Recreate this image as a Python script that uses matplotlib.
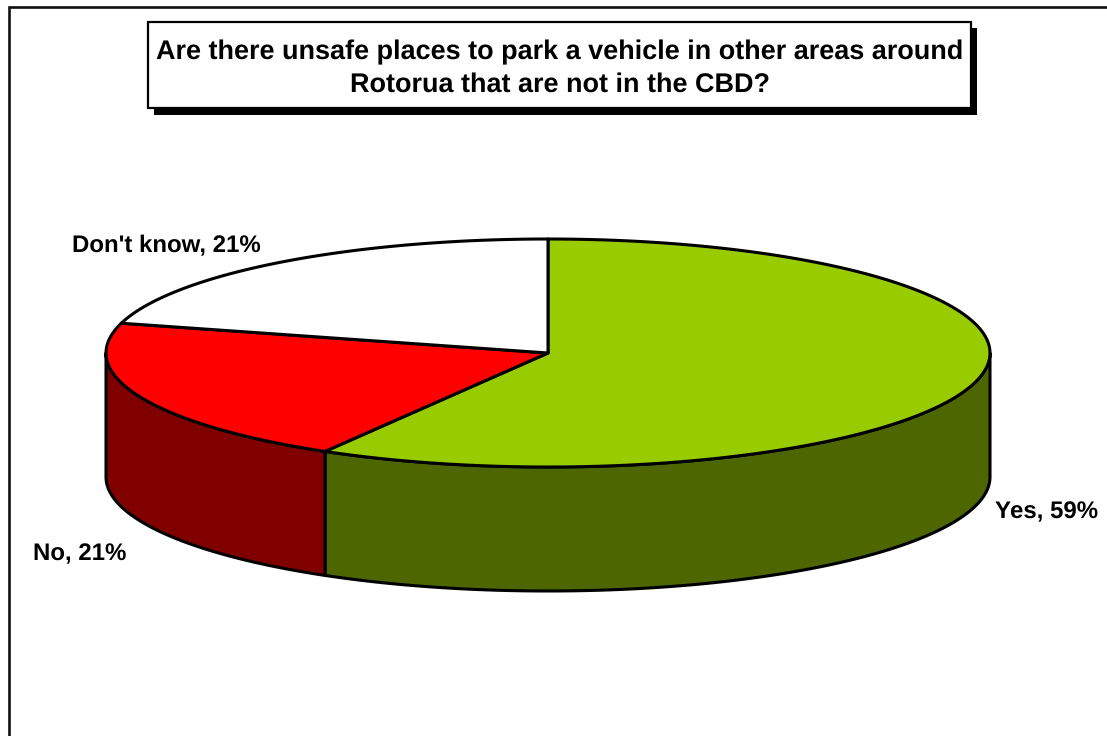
import numpy as np
import matplotlib
matplotlib.use("Agg")
import matplotlib.pyplot as plt
from matplotlib.patches import Polygon, Rectangle

W, H = 1107, 736
title = "Are there unsafe places to park a vehicle in other areas around\nRotorua that are not in the CBD?"
categories = ["Yes", "No", "Don't know"]
values = [59, 21, 21]
top_colors = ["#99CC00", "#FF0000", "#FFFFFF"]
side_colors = ["#4D6600", "#800000", "#808080"]
label_pos = [(1047, 512), (80, 554.5), (166, 246.5)]

CX, CY, RX, RY, DEPTH = 548, 353, 442, 114, 124

plt.rcParams["font.family"] = ["Liberation Sans", "DejaVu Sans"]
plt.rcParams["text.hinting"] = "none"
plt.rcParams["text.hinting_factor"] = 1
fig = plt.figure(figsize=(W / 100, H / 100), dpi=100, facecolor="white")
ax = fig.add_axes([0, 0, 1, 1])
ax.set_xlim(0, W)
ax.set_ylim(H, 0)
ax.axis("off")

# chart frame
ax.plot([9, 9, W + 5], [H + 5, 7, 7], color="#111111", lw=1.9, solid_joinstyle="miter", zorder=1)

# title box and shadow
ax.add_patch(Rectangle((153.5, 28), 823, 87, fc="black", ec="none", zorder=2))
ax.add_patch(Rectangle((147.5, 22), 823, 86, fc="white", ec="black", lw=1.6, zorder=3))
ax.text(559.5, 69, title, ha="center", va="center", fontsize=19.4, fontweight="bold",
        linespacing=1.36, zorder=4)


def ell(t, dy=0.0):
    return np.column_stack([CX + RX * np.cos(t), CY - RY * np.sin(t) + dy])


fractions = np.array(values, float) / sum(values)
edges = np.pi / 2 - 2 * np.pi * np.concatenate([[0], np.cumsum(fractions)])

# side walls: only the front half of the rim (pi..2pi in ellipse parameter) is visible
for i in range(len(values)):
    a0, a1 = edges[i], edges[i + 1]
    lo, hi = max(a1, -np.pi), min(a0, 0)
    if hi <= lo:
        continue
    t = np.linspace(hi, lo, 120)
    pts = np.vstack([ell(t), ell(t[::-1], DEPTH)])
    ax.add_patch(Polygon(pts, closed=True, fc=side_colors[i], ec="black", lw=2.2,
                         joinstyle="round", zorder=5))

# top faces
for i in range(len(values)):
    t = np.linspace(edges[i], edges[i + 1], 240)
    pts = np.vstack([[CX, CY], ell(t)])
    ax.add_patch(Polygon(pts, closed=True, fc=top_colors[i], ec="black", lw=2.2,
                         joinstyle="round", zorder=6))

# labels
for c, v, (x, y) in zip(categories, values, label_pos):
    ax.text(x, y, f"{c}, {v}%", ha="center", va="center", fontsize=17.3,
            fontweight="bold", zorder=7)

fig.savefig("out.png", dpi=100, facecolor="white")
